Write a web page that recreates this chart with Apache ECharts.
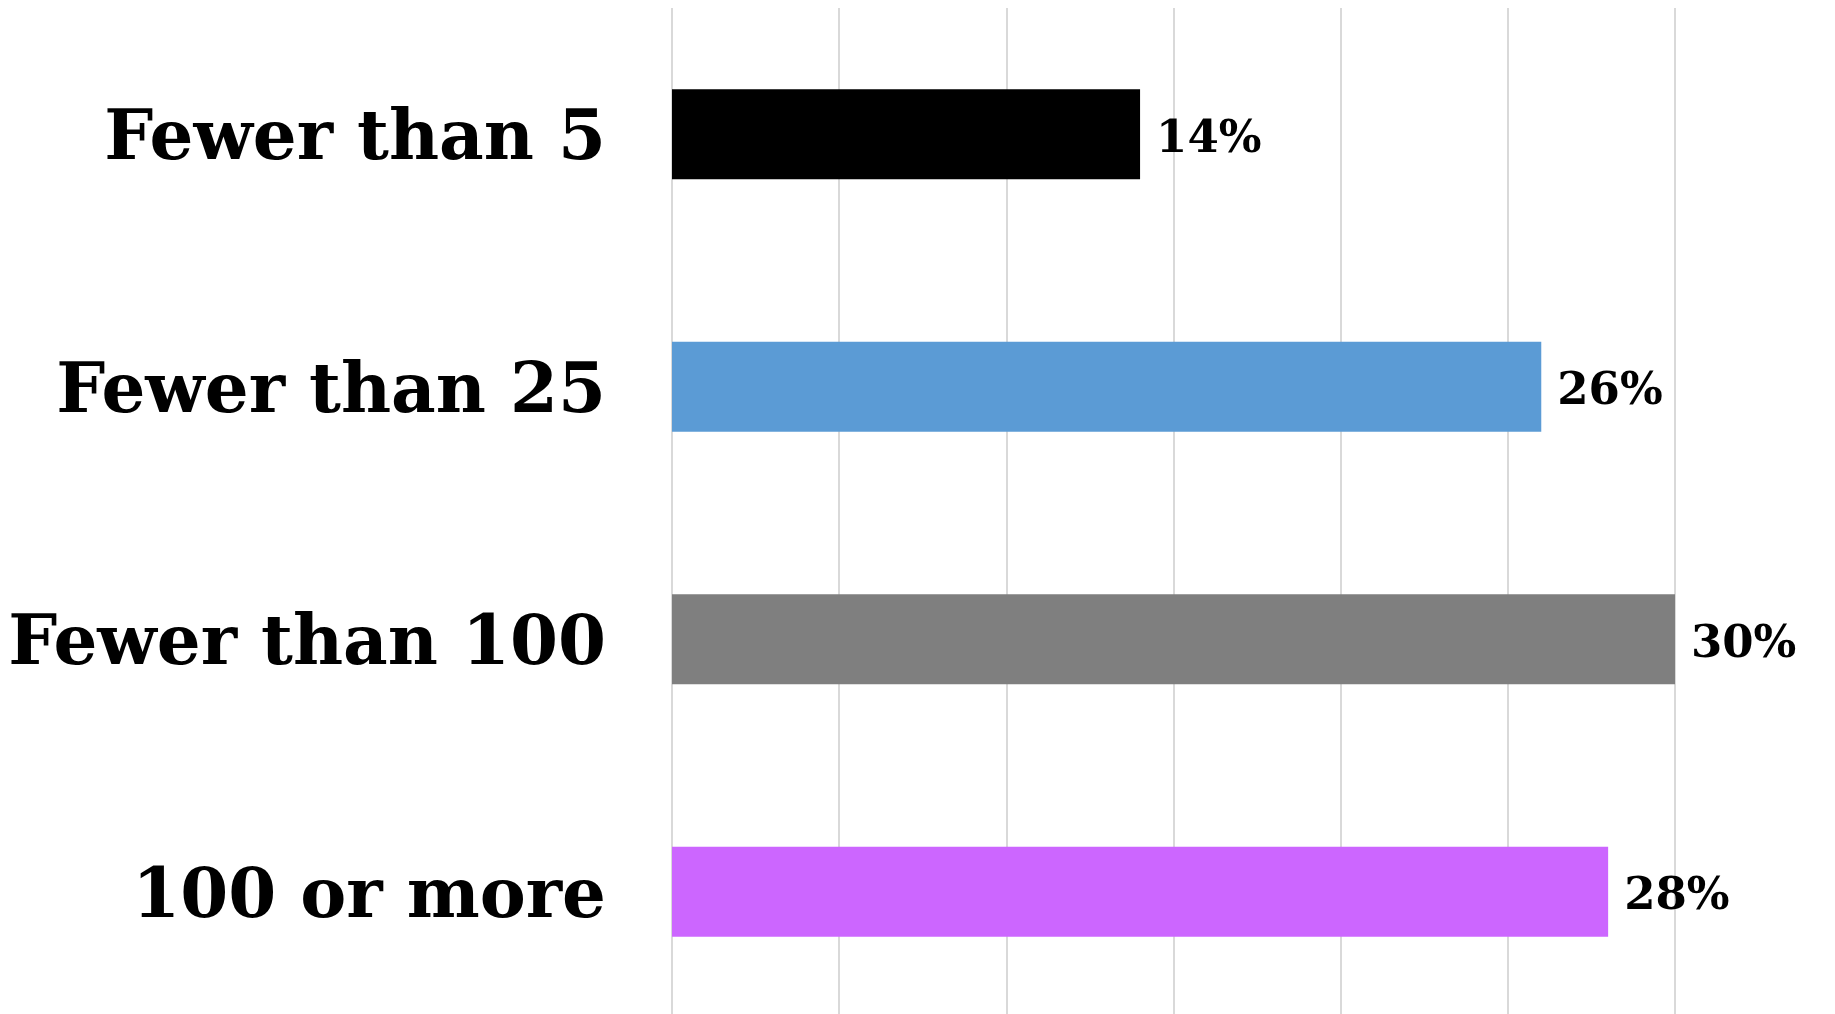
<!DOCTYPE html>
<html>
<head>
<meta charset="utf-8">
<script src="https://cdn.jsdelivr.net/npm/echarts@6/dist/echarts.min.js"></script>
<style>
  html, body { margin: 0; padding: 0; background: #fff; overflow: hidden; }
  /* a little taller than the window so the last band runs off the bottom like the original */
  #main { width: 1835px; height: 1018px; }
</style>
</head>
<body>
<div id="main"></div>
<script>
  // categories, top to bottom
  var categories = ['Fewer than 5', 'Fewer than 25', 'Fewer than 100', '100 or more'];
  var values = [14, 26, 30, 28];
  var barColors = ['#000000', '#5B9BD5', '#7F7F7F', '#CC66FF'];

  var chart = echarts.init(document.getElementById('main'));

  var data = [];
  for (var i = 0; i < values.length; i++) {
    data.push({ value: values[i], itemStyle: { color: barColors[i] } });
  }

  var option = {
    backgroundColor: '#ffffff',
    animation: false,
    grid: { left: 672, right: 160, top: 8, bottom: 0 },
    xAxis: {
      type: 'value',
      min: 0,
      max: 30,
      interval: 5,
      axisLabel: { show: false },
      axisLine: { show: false },
      axisTick: { show: false },
      splitLine: { show: true, lineStyle: { color: '#d9d9d9', width: 2 } }
    },
    yAxis: {
      type: 'category',
      inverse: true,
      data: categories,
      axisLine: { show: false },
      axisTick: { show: false },
      axisLabel: {
        margin: 66,
        formatter: '{c|{value}}',
        rich: {
          c: {
            color: '#000',
            fontFamily: 'DejaVu Serif',
            fontWeight: 'bold',
            fontSize: 69,
            padding: [14, 0, 0, 0]
          }
        }
      }
    },
    series: [{
      type: 'bar',
      data: data,
      barWidth: 90,
      label: {
        show: true,
        position: 'right',
        distance: 16,
        offset: [0, 6],
        formatter: '{c}%',
        color: '#000',
        fontFamily: 'DejaVu Serif',
        fontWeight: 'bold',
        fontSize: 45
      }
    }]
  };

  chart.setOption(option);
</script>
</body>
</html>
